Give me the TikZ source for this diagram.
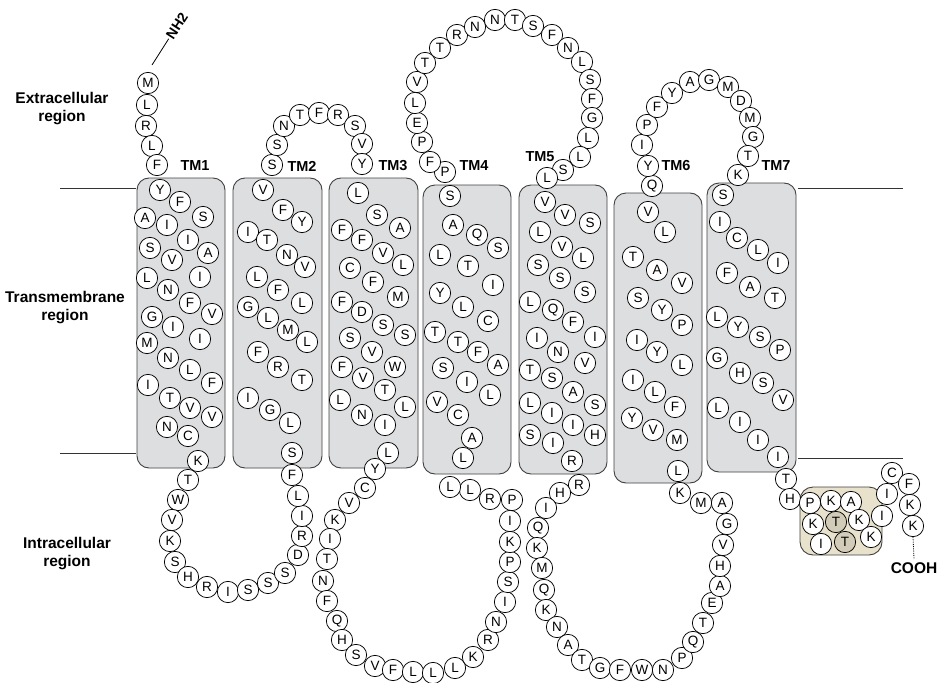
\documentclass[tikz,border=0pt]{standalone}
\usepackage{fontspec}
\setmainfont{Liberation Sans}
\begin{document}
\begin{tikzpicture}[x=1pt,y=-1pt]
\definecolor{tmgray}{RGB}{221,222,224}
\definecolor{beige}{RGB}{232,226,205}
\definecolor{tshade}{RGB}{210,203,184}
\tikzset{
 res/.style={circle,draw,fill=white,minimum size=21.3pt,inner sep=0pt,line width=0.75pt,font=\fontsize{13.5}{13.5}\selectfont},
 shres/.style={res,fill=tshade},
 tmbox/.style={draw=black!75,fill=tmgray,rounded corners=12pt,line width=0.9pt},
 lbl/.style={font=\fontsize{15.5}{18}\selectfont\bfseries,align=center},
 tml/.style={font=\fontsize{14.5}{14.5}\selectfont\bfseries},
 memb/.style={line width=0.9pt,draw=black!80}
}
\useasboundingbox (0,0) rectangle (941,682);
% membrane lines
\draw[memb] (60,188) -- (136,188);
\draw[memb] (798,188) -- (903,188);
\draw[memb] (60,453) -- (136,453);
\draw[memb] (798,458) -- (903,458);
% TM boxes
\draw[tmbox] (137,178) rectangle (225,468);
\draw[tmbox] (233,178) rectangle (322,468);
\draw[tmbox] (329,178) rectangle (418,468);
\draw[tmbox] (423,185) rectangle (511,474);
\draw[tmbox] (519,185) rectangle (607,474);
\draw[tmbox] (614,193) rectangle (702,483);
\draw[tmbox] (707,183) rectangle (796,472);
\draw[draw=black!75,fill=beige,rounded corners=13pt,line width=0.9pt] (800,487) rectangle (882,555);
% labels
\node[lbl] (ext) at (62,109) {Extracellular\\region};
\node[lbl] (tmr) at (65,308) {Transmembrane\\region};
\node[lbl] (intr) at (67,554) {Intracellular\\region};
\node[tml] (tm1) at (195,166) {TM1};
\node[tml] (tm2) at (302,166) {TM2};
\node[tml] (tm3) at (393,166) {TM3};
\node[tml] (tm4) at (474,166) {TM4};
\node[tml] (tm5) at (540,157) {TM5};
\node[tml] (tm6) at (676,166) {TM6};
\node[tml] (tm7) at (776,166) {TM7};
% N-terminus
\node[font=\fontsize{14}{14}\selectfont\bfseries,rotate=57,inner sep=1pt] (nh2) at (177,26) {NH2};
\coordinate (nstart) at (152,65);
\draw[line width=0.8pt] (nstart) -- (nh2.west);
\foreach [count=\i] \x/\y/\l in {148/83/M,147/105/L,146/126/R,152/146/L,157/165/F}
 \node[res] (nt\i) at (\x,\y) {\l};
% TM1
\foreach [count=\i] \x/\y/\l in {160/190/Y,180/202/F,203/217/S,145/218/A,167/225/I,188/240/I,208/253/A,150/248/S,172/260/V,200/277/I,147/278/L,168/290/N,190/303/F,212/314/V,152/317/G,173/327/I,200/339/I,147/343/M,168/358/N,190/370/L,212/383/F,148/385/I,170/398/T,190/408/V,212/417/V,167/427/N,188/436/C,198/461/K}
 \node[res] (ta\i) at (\x,\y) {\l};
% IL1
\foreach [count=\i] \x/\y/\l in {188/480/T,178/500/W,172/520/V,170/541/K,175/562/S,188/577/H,207/587/R,228/592/I,248/590/S,268/583/S,285/573/S,298/555/D,302/536/R,302/516/I,298/496/L,292/475/F}
 \node[res] (ia\i) at (\x,\y) {\l};
% TM2
\foreach [count=\i] \x/\y/\l in {263/190/V,283/210/F,302/222/Y,248/232/I,267/240/T,287/255/N,305/267/V,257/277/L,278/290/F,302/303/L,248/307/G,268/318/L,288/330/M,307/342/L,258/352/F,278/367/R,302/380/T,248/398/I,270/410/G,290/423/L,292/453/S}
 \node[res] (tb\i) at (\x,\y) {\l};
% EL1
\foreach [count=\i] \x/\y/\l in {272/165/S,277/145/S,284/126/N,300/115/T,319/113/F,338/115/R,355/126/S,362/144/V,362/164/Y}
 \node[res] (ea\i) at (\x,\y) {\l};
% TM3
\foreach [count=\i] \x/\y/\l in {358/193/L,377/215/S,400/228/A,342/230/F,362/240/F,383/253/V,403/265/L,350/268/C,373/282/F,398/297/M,342/302/F,362/312/D,383/325/S,405/335/S,350/338/S,372/352/V,395/367/W,342/367/F,363/378/V,385/390/T,405/407/L,340/400/L,362/415/N,385/425/I,388/453/L}
 \node[res] (tc\i) at (\x,\y) {\l};
% IL2
\foreach [count=\i] \x/\y/\l in {375/469/Y,365/488/C,349/503/V,335/520/K,330/539/I,327/559/T,323/581/N,327/601/F,337/621/Q,342/640/H,356/655/S,375/666/V,393/670/F,413/672/L,433/673/L,455/668/L,473/657/K,488/640/R,496/622/N,505/602/I,508/582/S,510/562/P,510/542/K,510/521/I,512/500/P,490/499/R,470/490/L,450/487/L}
 \node[res] (ib\i) at (\x,\y) {\l};
% TM4
\foreach [count=\i] \x/\y/\l in {450/196/S,453/225/A,477/235/Q,498/248/S,440/255/L,468/266/T,493/285/I,440/293/Y,463/307/L,488/321/C,435/332/T,458/342/T,478/352/F,498/365/A,443/368/S,467/382/I,490/395/L,437/402/V,458/415/C,472/438/A,463/458/L}
 \node[res] (td\i) at (\x,\y) {\l};
% EL2
\foreach [count=\i] \x/\y/\l in {445/172/P,430/162/F,422/142/P,417/123/E,415/103/L,417/82/V,425/63/T,440/48/T,457/35/R,475/27/N,495/20/N,515/20/T,533/26/S,552/35/F,568/48/N,582/62/L,590/80/S,592/99/F,592/118/G,588/138/L,580/157/L,563/170/S,547/178/L}
 \node[res] (eb\i) at (\x,\y) {\l};
% TM5
\foreach [count=\i] \x/\y/\l in {545/202/V,565/215/V,590/223/S,540/232/L,562/247/V,583/258/L,538/265/S,560/278/S,585/292/S,530/302/L,553/310/Q,573/322/F,595/337/I,537/338/I,558/352/N,585/363/V,530/370/T,552/378/S,573/392/A,595/405/S,530/403/L,552/413/I,573/425/I,595/435/H,530/435/S,553/443/I,572/461/R}
 \node[res] (te\i) at (\x,\y) {\l};
% IL3
\foreach [count=\i] \x/\y/\l in {579/485/R,560/493/H,546/508/I,538/528/Q,537/548/K,542/568/M,544/590/Q,546/610/K,557/627/N,568/645/A,582/660/T,600/668/G,620/670/F,642/670/W,663/670/N,682/658/P,693/642/Q,703/623/T,712/603/E,720/586/A,720/566/H,723/545/V,727/524/G,722/503/A,701/503/M,680/493/K}
 \node[res] (ic\i) at (\x,\y) {\l};
% TM6
\foreach [count=\i] \x/\y/\l in {652/186/Q,648/212/V,665/232/L,633/257/T,657/270/A,682/283/V,638/298/S,662/310/Y,682/325/P,637/340/I,657/352/Y,682/365/L,633/380/I,655/392/L,675/407/F,632/418/Y,653/430/V,677/440/M,678/471/L}
 \node[res] (tf\i) at (\x,\y) {\l};
% EL3
\foreach [count=\i] \x/\y/\l in {648/166/Y,642/145/I,647/125/P,657/107/F,672/93/Y,690/82/A,709/80/G,728/87/M,741/101/D,750/118/M,753/137/G,748/156/T,738/175/K}
 \node[res] (ec\i) at (\x,\y) {\l};
% TM7
\foreach [count=\i] \x/\y/\l in {723/195/S,720/222/I,737/238/C,758/250/L,778/263/I,727/273/F,750/287/A,775/298/T,717/317/L,738/327/Y,760/337/S,780/350/P,717/358/G,740/373/H,763/383/S,783/400/V,718/408/L,740/422/I,758/440/I,778/457/I}
 \node[res] (tg\i) at (\x,\y) {\l};
% C-terminus
\foreach [count=\i] \x/\y/\l in {786/479/T,790/499/H,810/503/P,831/501/K,851/502/A,813/524/K,859/520/K,821/544/I,871/537/K,882/516/I,887/494/I,892/473/C,909/484/F,910/505/K,913/526/K}
 \node[res] (ct\i) at (\x,\y) {\l};
\node[shres] (ctt1) at (836,522) {T};
\node[shres] (ctt2) at (845,542) {T};
\node[font=\fontsize{15.5}{15.5}\selectfont\bfseries] (cooh) at (914,568) {COOH};
\draw[densely dotted,line width=0.8pt] (ct15.south) -- (cooh.north);
\end{tikzpicture}
\end{document}
